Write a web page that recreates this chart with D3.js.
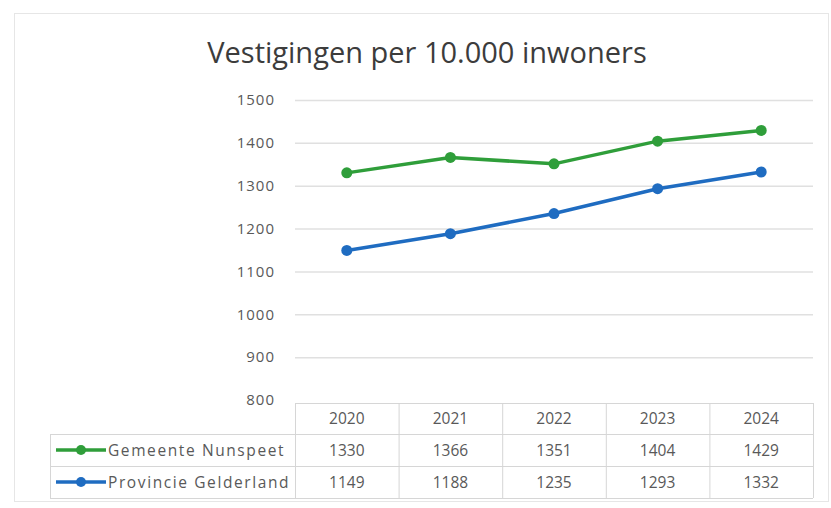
<!DOCTYPE html>
<html><head><meta charset="utf-8">
<script src="https://cdn.jsdelivr.net/npm/d3@7"></script>
<style>body{margin:0;background:#fff}svg{display:block}</style>
</head><body>
<svg id="c" width="831" height="508"></svg>
<script>
const categories = ["2020","2021","2022","2023","2024"];
const seriesNames = ["Gemeente Nunspeet","Provincie Gelderland"];
const nunspeet = [1330,1366,1351,1404,1429];
const gelderland = [1149,1188,1235,1293,1332];
const yTicks = [800,900,1000,1100,1200,1300,1400,1500];
const colors = ["#2f9e3a","#1f6cc1"];
const title = "Vestigingen per 10.000 inwoners";

const series = [nunspeet, gelderland];
const font = "'Open Sans', 'Noto Sans', sans-serif";
const svg = d3.select("#c");

// outer chart border
svg.append("rect").attr("x",14.5).attr("y",13.5).attr("width",814).attr("height",488)
  .attr("fill","#fff").attr("stroke","#e6e6e6");

svg.append("text").attr("x",427).attr("y",63).attr("text-anchor","middle")
  .attr("font-family",font).attr("font-size",29).attr("font-weight",500).attr("fill","#3c3c3c")
  .text(title);

const x = d3.scaleBand().domain(categories).range([295,813]);
const y = d3.scaleLinear().domain([800,1500]).range([400,100]);

// gridlines
svg.append("g").selectAll("line").data(yTicks.slice(1)).join("line")
  .attr("x1",295).attr("x2",813).attr("y1",d=>y(d)+0.5).attr("y2",d=>y(d)+0.5)
  .attr("stroke","#e0e0e0").attr("stroke-width",1.5);

// y axis
const yAxis = d3.axisLeft(y).tickValues(yTicks).tickSize(0).tickPadding(0).tickFormat(d3.format("d"));
const ga = svg.append("g").attr("transform","translate(275,0)").call(yAxis);
ga.select(".domain").remove();
ga.selectAll("text").attr("font-family",font).attr("font-size",15).attr("letter-spacing",1)
  .attr("fill","#595959");

// lines
const line = d3.line().x((d,i)=>x(categories[i])+x.bandwidth()/2).y(d=>y(d));
series.forEach((s,k)=>{
  svg.append("path").datum(s).attr("d",line).attr("fill","none")
    .attr("stroke",colors[k]).attr("stroke-width",3.5).attr("stroke-linejoin","round");
  svg.append("g").selectAll("circle").data(s).join("circle")
    .attr("cx",(d,i)=>x(categories[i])+x.bandwidth()/2).attr("cy",d=>y(d))
    .attr("r",5.5).attr("fill",colors[k]);
});

// data table
const rowTops = [403,434,466,498];
const tbl = svg.append("g");
const lineCol = "#d6d6d6";
tbl.append("line").attr("x1",295).attr("x2",813).attr("y1",rowTops[0]+0.5).attr("y2",rowTops[0]+0.5).attr("stroke",lineCol);
[1,2,3].forEach(r=>{
  tbl.append("line").attr("x1",50).attr("x2",813).attr("y1",rowTops[r]+0.5).attr("y2",rowTops[r]+0.5).attr("stroke",lineCol);
});
tbl.append("line").attr("x1",50.5).attr("x2",50.5).attr("y1",rowTops[1]).attr("y2",rowTops[3]).attr("stroke",lineCol);
categories.forEach(c=>{
  tbl.append("line").attr("x1",x(c)+0.5).attr("x2",x(c)+0.5).attr("y1",rowTops[0]).attr("y2",rowTops[3]).attr("stroke",lineCol);
});
tbl.append("line").attr("x1",813.5).attr("x2",813.5).attr("y1",rowTops[0]).attr("y2",rowTops[3]).attr("stroke",lineCol);

tbl.append("g").selectAll("text").data(categories).join("text")
  .attr("x",d=>x(d)+x.bandwidth()/2).attr("y",(rowTops[0]+rowTops[1])/2+5.5)
  .attr("text-anchor","middle").attr("font-family",font).attr("font-size",15.5).attr("fill","#595959")
  .text(d=>d);

series.forEach((s,k)=>{
  const cy = (rowTops[k+1]+rowTops[k+2])/2;
  tbl.append("g").selectAll("text").data(s).join("text")
    .attr("x",(d,i)=>x(categories[i])+x.bandwidth()/2).attr("y",cy+5.5)
    .attr("text-anchor","middle").attr("font-family",font).attr("font-size",15.5).attr("fill","#595959")
    .text(d=>d);
  tbl.append("line").attr("x1",56).attr("x2",106).attr("y1",cy).attr("y2",cy)
    .attr("stroke",colors[k]).attr("stroke-width",3.5);
  tbl.append("circle").attr("cx",81).attr("cy",cy).attr("r",5).attr("fill",colors[k]);
  tbl.append("text").attr("x",108).attr("y",cy+5.5).attr("font-family",font).attr("font-size",15.5)
    .attr("letter-spacing",1.6).attr("fill","#595959").text(seriesNames[k]);
});
</script>
</body></html>
